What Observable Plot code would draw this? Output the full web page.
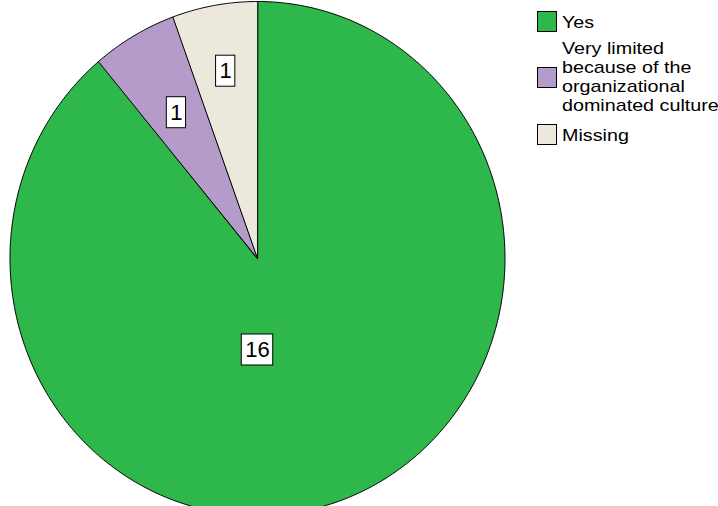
<!DOCTYPE html>
<html>
<head>
<meta charset="utf-8">
<script src="https://cdn.jsdelivr.net/npm/d3@7"></script>
<script src="https://cdn.jsdelivr.net/npm/@observablehq/plot@0.6"></script>
<style>
  html, body { margin: 0; padding: 0; background: #fff; }
  #wrap { position: relative; width: 718px; height: 506px; overflow: hidden; font-family: "Liberation Sans", Arial, sans-serif; }
  .item { position: absolute; left: 537px; }
  .sw { position: absolute; left: 0; width: 18px; height: 19px; border: 1px solid #000; }
  .txt { position: absolute; left: 25px; font-size: 17px; line-height: 19px; color: #000; white-space: nowrap; transform: scaleX(1.16); transform-origin: 0 0; }
</style>
</head>
<body>
<div id="wrap"></div>
<script>
const categories = ["Yes", "Very limited because of the organizational dominated culture", "Missing"];
const legendLines = [["Yes"], ["Very limited", "because of the", "organizational", "dominated culture"], ["Missing"]];
const counts = [16, 1, 1];
const colors = ["#2eb84b", "#b59bc9", "#ece9dc"];

const W = 718, H = 506;
const cx = 257, cy = 258, RX = 247.5, RY = 257;
const fontSize = 22;

const table = categories.map((c, i) => ({cat: c, value: counts[i]}));
const arcs = d3.pie().sort(null).value(d => d.value).startAngle(0).endAngle(2 * Math.PI)(table);

// slice outlines (data units: radius 1)
const pts = [];
arcs.forEach(a => {
  pts.push({cat: a.data.cat, x: 0, y: 0});
  const n = Math.max(2, Math.ceil((a.endAngle - a.startAngle) / (Math.PI / 360)));
  for (let k = 0; k <= n; k++) {
    const t = a.startAngle + (a.endAngle - a.startAngle) * k / n;
    pts.push({cat: a.data.cat, x: Math.sin(t), y: Math.cos(t)});
  }
});

// label anchors: mid-angle at 2/3 radius, pushed outward to avoid crowding
const labels = [];
arcs.forEach(a => {
  const span = a.endAngle - a.startAngle;
  let ang, r;
  if (span > Math.PI) { ang = Math.PI; r = 0.356; }
  else { ang = (a.startAngle + a.endAngle) / 2; r = 0.655; }
  const pos = rr => ({x: rr * Math.sin(ang), y: rr * Math.cos(ang)});
  const tooClose = p => labels.some(l => Math.hypot((l.x - p.x) * RX, (l.y - p.y) * RY) < 64);
  let p = pos(r);
  while (tooClose(p) && r < 0.95) { r += 0.005; p = pos(r); }
  const txt = String(a.data.value);
  const hw = (txt.length * 0.556 * fontSize + 7) / 2 / RX;
  const hh = 15.5 / RY;
  labels.push({cat: a.data.cat, text: txt, x: p.x, y: p.y, hw, hh});
});

const chart = Plot.plot({
  width: W, height: H,
  x: {domain: [-1, 1], range: [cx - RX, cx + RX], axis: null},
  y: {domain: [-1, 1], range: [cy + RY, cy - RY], axis: null},
  color: {domain: categories, range: colors},
  style: {fontFamily: '"Liberation Sans", Arial, sans-serif', background: "white"},
  marks: [
    Plot.line(pts, {x: "x", y: "y", z: "cat", fill: "cat", stroke: "black", strokeWidth: 1, curve: "linear-closed", strokeLinejoin: "miter"}),
    Plot.rect(labels, {x1: d => d.x - d.hw, x2: d => d.x + d.hw, y1: d => d.y - d.hh, y2: d => d.y + d.hh, fill: "white", stroke: "black", strokeWidth: 1}),
    Plot.text(labels, {x: "x", y: "y", text: "text", fontSize: fontSize, fill: "black"})
  ]
});

const wrap = document.getElementById("wrap");
wrap.appendChild(chart);

// legend (HTML, right of the plot)
const itemTops = [11, 38.6, 124];
const swatchOffsets = [0, 28.4, 0];
const textOffsets = [1.6, 0, 2.3];
categories.forEach((c, i) => {
  const item = document.createElement("div");
  item.className = "item";
  item.style.top = itemTops[i] + "px";
  const sw = document.createElement("div");
  sw.className = "sw";
  sw.style.top = swatchOffsets[i] + "px";
  sw.style.background = colors[i];
  const t = document.createElement("div");
  t.className = "txt";
  t.style.top = textOffsets[i] + "px";
  t.innerHTML = legendLines[i].join("<br>");
  item.appendChild(sw);
  item.appendChild(t);
  wrap.appendChild(item);
});
</script>
</body>
</html>
